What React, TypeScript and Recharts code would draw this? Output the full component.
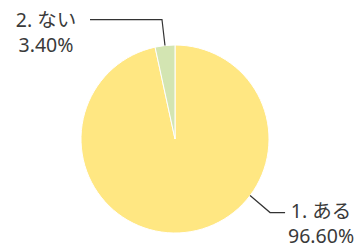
import { PieChart, Pie, Cell } from 'recharts'

const NAMES   = ['1. ある', '2. ない']
const VALUES  = [96.6, 3.4]
const COLORS  = ['#ffe782', '#d3e5b2']

// leader-line layout per slice: where the line leaves the rim, elbow, text block
const LEADERS = [
  { angle: -37, elbow: [20, 17], end: [35, 17], textX: 71, textY: 22 },
  { angle: null, elbow: [-3, -26], end: [-75, -26], textX: -119, textY: -19 },
]

const data = NAMES.map((name, i) => ({ name, value: VALUES[i] }))

const TEXT = '#3a3a3a'
const FONT = '"Noto Sans", "Noto Sans CJK JP", sans-serif'

const RAD = Math.PI / 180

function renderLabel(props: any) {
  const { cx, cy, outerRadius, midAngle, index, name, value } = props
  const cfg = LEADERS[index]
  const a = (cfg.angle ?? midAngle) * RAD
  const sx = cx + outerRadius * Math.cos(a)
  const sy = cy - outerRadius * Math.sin(a)
  const ex = sx + cfg.elbow[0]
  const ey = sy + cfg.elbow[1]
  const tx = sx + cfg.end[0]
  const ty = sy + cfg.end[1]
  const lx = sx + cfg.textX
  const ly = sy + cfg.textY
  return (
    <g>
      <polyline
        points={`${sx},${sy} ${ex},${ey} ${tx},${ty}`}
        fill="none"
        stroke="#333"
        strokeWidth={1.2}
      />
      <text x={lx} y={ly} textAnchor="middle" fill={TEXT} fontSize={19.5} fontFamily={FONT}>
        <tspan x={lx} dy={0}>{name}</tspan>
        <tspan x={lx} dy={25}>{value.toFixed(2)}%</tspan>
      </text>
    </g>
  )
}

export default function App() {
  return (
    <div style={{ position: 'absolute', left: 0, top: 0, background: '#fff' }}>
      <PieChart width={362} height={249}>
        <Pie
          data={data}
          dataKey="value"
          nameKey="name"
          cx={170}
          cy={134}
          outerRadius={94}
          startAngle={90}
          endAngle={-270}
          stroke="#fff"
          strokeWidth={1}
          label={renderLabel}
          labelLine={false}
          isAnimationActive={false}
        >
          {data.map((_, i) => (
            <Cell key={i} fill={COLORS[i]} />
          ))}
        </Pie>
      </PieChart>
    </div>
  )
}
